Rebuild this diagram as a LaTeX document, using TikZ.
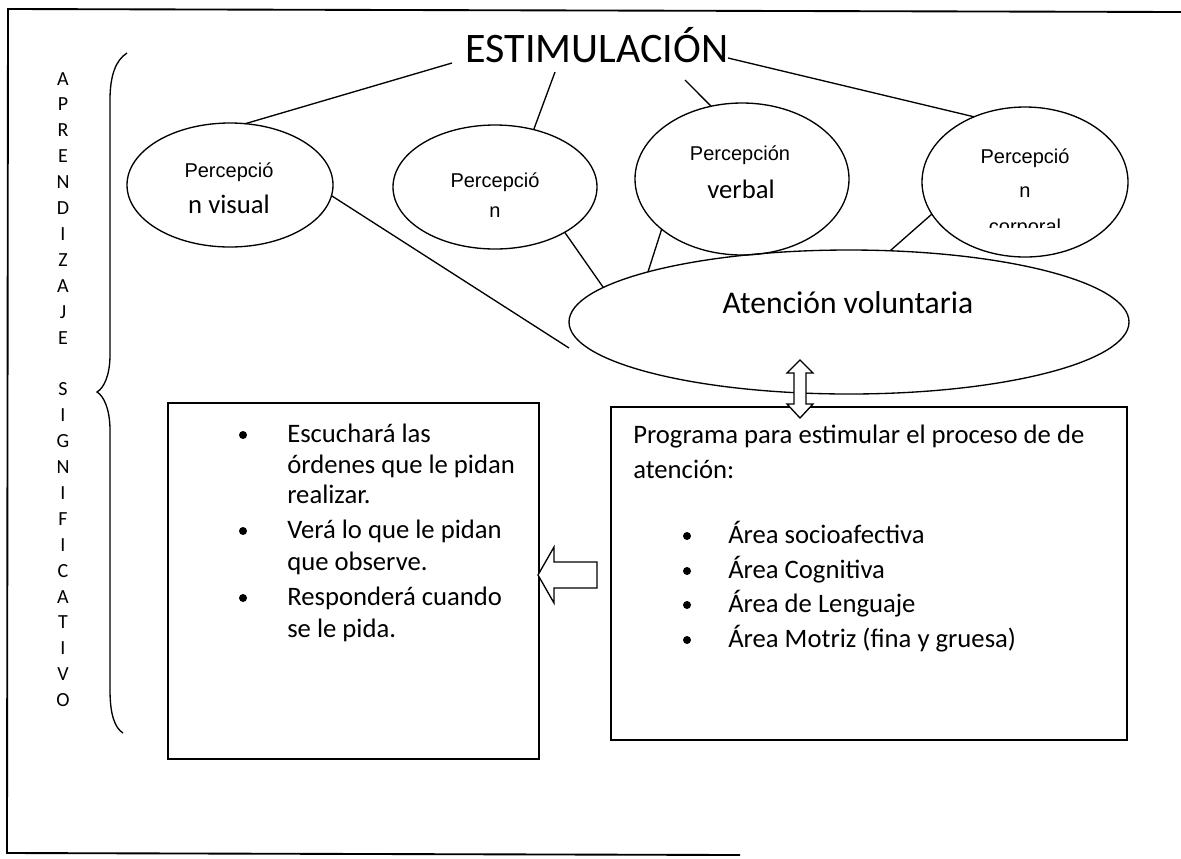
\documentclass[tikz,border=0pt]{standalone}
\usepackage{fontspec}
\setmainfont{Carlito}
\newfontfamily\arialf{Liberation Sans}
\begin{document}
\begin{tikzpicture}[x=0.75pt,y=-0.75pt,
  ell/.style={draw,ellipse,line width=1pt,inner sep=0pt,outer sep=0pt},
  conn/.style={line width=1pt},
  frame/.style={line width=1.4pt},
  boxr/.style={draw,rectangle,line width=1.1pt,inner sep=0pt,outer sep=0pt},
  smalltxt/.style={anchor=base,inner sep=0pt,font=\arialf\fontsize{15}{18}\selectfont},
  bigtxt/.style={anchor=base,inner sep=0pt,font=\fontsize{20}{24}\selectfont},
  listtxt/.style={anchor=base west,inner sep=0pt,font=\fontsize{20}{24}\selectfont},
  vlet/.style={anchor=base,inner sep=0pt,font=\fontsize{15}{18}\selectfont},
  blockarrow/.style={draw,fill=white,line width=1pt,line join=miter}
]
\usetikzlibrary{shapes.geometric}
\useasboundingbox (0,0) rectangle (1181,858);

% outer frame (open on the right)
\draw[frame] (1181,12) -- (8,9) -- (7,853) -- (740,855);

% vertical letters
\foreach \l [count=\i from 0] in {A,P,R,E,N,D,I,Z,A,J,E}
  \node[vlet] (va\i) at (63,85+25.9*\i) {\l};
\foreach \l [count=\i from 12] in {S,I,G,N,I,F,I,C,A,T,I,V,O}
  \node[vlet] (vs\i) at (63,85+25.9*\i) {\l};

% brace
\draw[line width=1pt] (127,53) .. controls (116,60) and (110,75) .. (110,100) -- (110,355)
  .. controls (110,375) and (104,388) .. (97,392)
  .. controls (104,396) and (110,410) .. (110,430) -- (110,690)
  .. controls (110,715) and (115,728) .. (123,733);

% title
\node[anchor=base,inner sep=0pt,font=\fontsize{31.5}{36}\selectfont] (est) at (597,62) {ESTIMULACIÓN};
\coordinate (e1) at (452,63);
\coordinate (e2) at (555,72);
\coordinate (e3) at (685,80);
\coordinate (e4) at (728,58);

% ellipses
\node[ell,minimum width=154.5pt,minimum height=93pt] (pv) at (230,185) {};
\node[ell,minimum width=153pt,minimum height=93pt] (pn) at (495,187) {};
\node[ell,minimum width=160.5pt,minimum height=114pt] (pb) at (742,179) {};
\node[ell,minimum width=154.5pt,minimum height=112.5pt] (pc) at (1025,182) {};
\node[ell,minimum width=420pt,minimum height=108pt] (att) at (849,322) {};

% ellipse texts
\node[smalltxt] (pv1) at (229,177) {Percepció};
\node[bigtxt] (pv2) at (229,213) {n visual};
\node[smalltxt] (pn1) at (495,187) {Percepció};
\node[smalltxt] (pn2) at (495,217) {n};
\node[smalltxt] (pb1) at (740,160) {Percepción};
\node[bigtxt] (pb2) at (741,198) {verbal};
\node[smalltxt] (pc1) at (1025,163) {Percepció};
\node[smalltxt] (pc2) at (1025,197) {n};
\begin{scope}
  \clip (900,100) rectangle (1150,227.5);
  \node[smalltxt] (pc3) at (1025,233) {corporal};
\end{scope}
\node[anchor=base,inner sep=0pt,font=\fontsize{23.7}{28}\selectfont] (att1) at (848,313) {Atención voluntaria};

% connectors from title
\draw[conn] (e1) -- (pv.76);
\draw[conn] (e2) -- (pn.56.5);
\draw[conn] (e3) -- (pb.113.7);
\draw[conn] (e4) -- (pc.128.3);

% connectors to Atención
\coordinate (a1) at (569,348);
\draw[conn] (pv.-6) -- (a1);
\draw[conn] (pn.-33.3) -- (att.172.9);
\draw[conn] (pb.212.7) -- (att.166.7);
\draw[conn] (pc.199.5) -- (att.60.3);

% boxes
\node[boxr,minimum width=278.25pt,minimum height=267pt] (lbox) at (353.5,581) {};
\node[boxr,minimum width=387pt,minimum height=249.75pt] (rbox) at (869,573.5) {};

% left box list
\foreach \y in {435,531,598} \fill (243,\y) circle (4);
\node[listtxt] (l1) at (287,442) {Escuchará las};
\node[listtxt] (l2) at (287,473) {órdenes que le pidan};
\node[listtxt] (l3) at (287,503) {realizar.};
\node[listtxt] (l4) at (287,538) {Verá lo que le pidan};
\node[listtxt] (l5) at (287,570) {que observe.};
\node[listtxt] (l6) at (287,605) {Responderá cuando};
\node[listtxt] (l7) at (287,637) {se le pida.};

% right box text
\node[listtxt] (r1) at (633,443) {Programa para estimular el proceso de de};
\node[listtxt] (r2) at (633,478) {atención:};
\foreach \y in {536,571,605,640} \fill (687,\y) circle (4);
\node[listtxt] (r3) at (728,543) {Área socioafectiva};
\node[listtxt] (r4) at (728,578) {Área Cognitiva};
\node[listtxt] (r5) at (728,612) {Área de Lenguaje};
\node[listtxt] (r6) at (728,647) {Área Motriz (fina y gruesa)};

% block arrows
\draw[blockarrow] (800,360) -- (813,373) -- (806,373) -- (806,404) -- (813,404) -- (800,418)
  -- (787,404) -- (794,404) -- (794,373) -- (787,373) -- cycle;
\draw[blockarrow] (538,575) -- (554,547) -- (554,562) -- (597,562) -- (597,588)
  -- (554,588) -- (554,603) -- cycle;
\end{tikzpicture}
\end{document}
